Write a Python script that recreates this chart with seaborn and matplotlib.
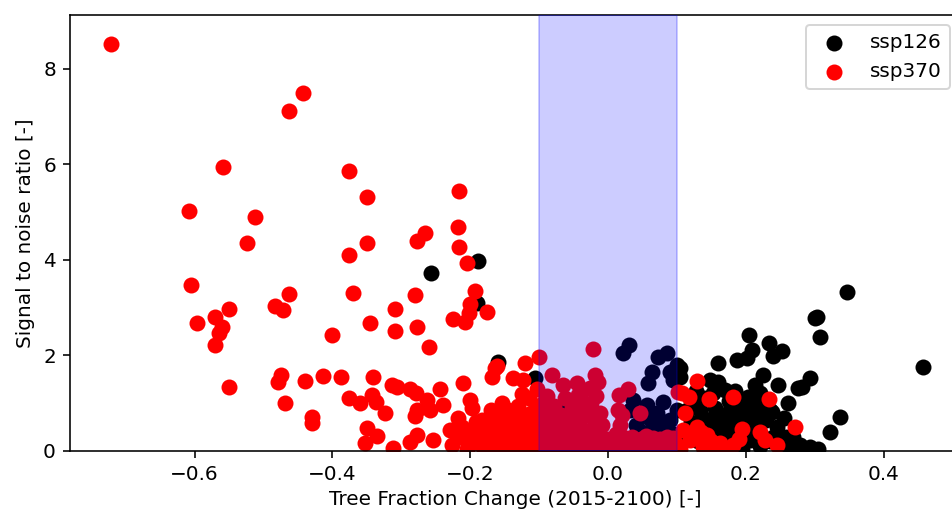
import matplotlib
matplotlib.use('Agg')
import matplotlib.pyplot as plt
import numpy as np
import seaborn as sns

# tree fraction change vs signal to noise ratio, one (x, y) pair per grid cell
ssp126 = np.array([
    (-0.189, 3.98), (-0.257, 3.73), (-0.190, 3.10), (-0.160, 1.86), (-0.106, 1.53),
    (0.030, 2.22), (0.022, 2.05), (0.086, 2.05), (0.073, 1.97), (0.100, 1.80), (0.064, 1.65),
    (0.090, 1.65), (0.058, 1.42), (0.094, 1.49), (0.036, 1.07), (0.057, 0.96), (0.080, 1.03),
    (0.071, 0.79), (0.090, 0.65), (0.100, 0.86), (0.032, 0.86),
    (0.040, 0.55), (0.050, 0.40), (0.065, 0.50), (0.075, 0.30), (0.085, 0.45), (0.095, 0.35),
    (0.045, 0.25), (0.060, 0.70), (0.080, 0.60),
    (0.347, 3.33), (0.457, 1.76), (0.303, 2.81), (0.300, 2.79), (0.308, 2.39), (0.205, 2.43),
    (0.234, 2.26), (0.252, 2.09), (0.209, 2.12), (0.240, 1.98), (0.187, 1.91), (0.202, 1.95),
    (0.160, 1.85), (0.293, 1.53), (0.276, 1.32), (0.282, 1.34), (0.225, 1.59), (0.247, 1.38),
    (0.213, 1.38), (0.221, 1.21), (0.261, 1.00), (0.235, 0.86), (0.238, 0.82), (0.337, 0.72),
    (0.322, 0.40), (0.148, 1.49), (0.160, 1.45), (0.170, 1.28), (0.203, 1.13), (0.199, 1.00),
    (0.177, 0.86), (0.167, 0.72), (0.104, 1.74), (0.104, 1.55), (0.134, 0.86), (0.144, 0.65),
    (0.245, 0.50), (0.271, 0.17), (0.293, 0.09), (0.279, 0.13), (0.206, 0.23), (0.213, 0.65),
    (0.187, 0.50), (0.163, 0.38), (0.152, 1.21),
    (0.110, 0.30), (0.120, 0.60), (0.125, 0.95), (0.130, 0.20), (0.140, 1.10), (0.150, 0.50),
    (0.155, 0.90), (0.160, 0.10), (0.170, 0.40), (0.175, 1.05), (0.180, 0.65), (0.185, 0.20),
    (0.190, 0.90), (0.195, 0.05), (0.200, 0.70), (0.210, 0.40), (0.215, 0.95), (0.220, 0.10),
    (0.230, 0.65), (0.240, 0.30), (0.250, 0.05), (0.255, 0.70), (0.265, 0.10), (0.285, 0.05),
    (0.305, 0.04),
    (0.115, 0.85), (0.128, 1.25), (0.138, 0.70), (0.158, 0.65), (0.172, 0.20), (0.185, 1.25),
    (0.195, 0.35), (0.205, 0.90), (0.225, 0.85), (0.235, 0.20), (0.258, 0.30), (0.268, 0.30),
    (0.275, 0.05), (0.295, 0.02),
    (-0.120, 0.40), (-0.050, 0.50), (-0.020, 0.30), (-0.065, 0.95), (-0.055, 1.00),
])

ssp370 = np.array([
    (-0.721, 8.52), (-0.443, 7.50), (-0.463, 7.12), (-0.559, 5.95), (-0.376, 5.86),
    (-0.350, 5.32), (-0.216, 5.44), (-0.608, 5.03), (-0.512, 4.90), (-0.524, 4.36),
    (-0.350, 4.36), (-0.266, 4.57), (-0.277, 4.40), (-0.218, 4.69), (-0.216, 4.27),
    (-0.205, 3.94), (-0.376, 4.10), (-0.605, 3.48), (-0.463, 3.29),
    (-0.597, 2.68), (-0.570, 2.81), (-0.550, 2.97), (-0.561, 2.60), (-0.565, 2.48),
    (-0.570, 2.22), (-0.550, 1.34), (-0.483, 3.04), (-0.472, 2.95), (-0.400, 2.43),
    (-0.475, 1.59), (-0.479, 1.45), (-0.440, 1.47), (-0.414, 1.58), (-0.388, 1.55),
    (-0.469, 1.00), (-0.429, 0.72), (-0.429, 0.59), (-0.376, 1.12), (-0.360, 1.01),
    (-0.350, 0.48), (-0.353, 0.17), (-0.345, 2.68),
    (-0.370, 3.31), (-0.280, 3.27), (-0.309, 2.97), (-0.309, 2.51), (-0.277, 2.60),
    (-0.225, 2.76), (-0.208, 2.70), (-0.193, 3.35), (-0.200, 3.08), (-0.202, 2.89),
    (-0.176, 2.91), (-0.260, 2.18),
    (-0.164, 1.74), (-0.168, 1.55), (-0.100, 1.97), (-0.120, 1.84), (-0.210, 1.42),
    (-0.244, 1.30), (-0.161, 1.78),
    (-0.341, 1.55), (-0.313, 1.38), (-0.306, 1.34), (-0.287, 1.30), (-0.279, 1.21),
    (-0.343, 1.17), (-0.337, 1.03), (-0.324, 0.79), (-0.263, 1.07), (-0.277, 0.86),
    (-0.280, 0.73), (-0.258, 0.86), (-0.239, 0.96), (-0.200, 1.07), (-0.197, 0.90),
    (-0.335, 0.31), (-0.312, 0.06), (-0.287, 0.19), (-0.277, 0.34), (-0.254, 0.23),
    (-0.226, 0.13), (-0.218, 0.69), (-0.212, 0.50), (-0.183, 0.65), (-0.174, 0.48),
    (-0.161, 0.29), (-0.200, 0.29), (-0.189, 0.17), (-0.154, 1.00), (-0.145, 0.86),
    (-0.138, 1.53), (-0.123, 1.49),
    (-0.230, 0.45), (-0.195, 0.45), (-0.170, 0.85), (-0.160, 0.60), (-0.180, 0.05),
    (-0.165, 0.10), (-0.155, 0.40),
    (-0.215, 0.30), (-0.205, 0.05), (-0.192, 0.60), (-0.185, 0.35), (-0.178, 0.20),
    (-0.172, 0.65), (-0.168, 0.30),
    (-0.150, 0.10), (-0.148, 0.25), (-0.140, 0.65), (-0.135, 0.20), (-0.130, 0.95),
    (-0.128, 0.50), (-0.122, 0.05), (-0.120, 0.30), (-0.118, 0.75), (-0.115, 1.10),
    (-0.110, 0.55), (-0.108, 0.15), (-0.105, 0.90), (-0.103, 1.30), (-0.102, 0.35),
    (-0.145, 0.45), (-0.142, 0.05), (-0.138, 0.80), (-0.132, 0.35), (-0.125, 0.70),
    (-0.125, 1.20), (-0.113, 0.40), (-0.112, 0.80), (-0.105, 0.05), (-0.158, 0.20),
    (-0.152, 0.75),
    (-0.095, 0.10), (-0.092, 0.45), (-0.090, 0.80), (-0.088, 1.15), (-0.085, 0.25),
    (-0.080, 0.60), (-0.078, 0.95), (-0.075, 0.05), (-0.070, 0.35), (-0.068, 0.75),
    (-0.062, 1.10), (-0.060, 0.15), (-0.058, 0.55), (-0.052, 0.90), (-0.050, 0.30),
    (-0.045, 0.05), (-0.040, 0.65), (-0.038, 1.25), (-0.035, 0.40), (-0.030, 0.95),
    (-0.028, 0.15), (-0.022, 0.70), (-0.018, 1.15), (-0.015, 0.35), (-0.010, 0.05),
    (-0.008, 0.55), (0.000, 0.25), (0.010, 0.05), (0.015, 0.85), (0.018, 0.55),
    (0.022, 0.30), (0.030, 0.10), (0.040, 0.12), (0.050, 0.05), (0.060, 0.15),
    (0.070, 0.08), (0.080, 0.12), (0.090, 0.05), (0.098, 0.15),
    (-0.097, 0.60), (-0.094, 1.00), (-0.083, 0.40), (-0.082, 0.05), (-0.073, 0.55),
    (-0.066, 0.20), (-0.064, 0.45), (-0.056, 0.75), (-0.054, 0.05), (-0.047, 0.50),
    (-0.046, 1.00), (-0.042, 0.25), (-0.033, 0.75), (-0.032, 0.05), (-0.025, 0.45),
    (-0.024, 1.00), (-0.020, 0.20), (-0.012, 0.80), (-0.005, 0.10), (0.012, 0.35),
    (0.020, 0.75), (0.025, 0.05), (0.035, 0.30), (0.048, 0.25), (0.055, 0.32),
    (0.065, 0.28), (0.075, 0.25), (0.085, 0.30), (0.095, 0.28), (0.045, 0.05),
    (-0.022, 2.14), (-0.081, 1.59), (-0.065, 1.38), (-0.045, 1.42), (-0.019, 1.59),
    (-0.015, 1.44), (-0.026, 1.32), (-0.044, 1.17), (0.016, 1.17), (0.029, 1.30),
    (0.046, 0.79), (0.102, 1.24),
    (0.129, 1.47), (0.107, 1.21), (0.118, 1.13), (0.147, 1.09), (0.181, 1.13),
    (0.234, 1.09), (0.112, 0.79), (0.194, 0.46), (0.271, 0.50), (0.109, 0.44),
    (0.129, 0.50), (0.144, 0.34), (0.163, 0.17), (0.181, 0.13), (0.221, 0.40),
    (0.228, 0.23), (0.245, 0.13), (0.119, 0.23), (0.138, 0.09),
    (0.105, 0.05), (0.125, 0.30), (0.135, 0.40), (0.150, 0.20), (0.155, 0.05),
    (0.170, 0.05), (0.190, 0.25),
])

# band of "no significant change"
band = (-0.1, 0.1)

dpi = 144
fig = plt.figure(figsize=(952 / dpi, 512 / dpi), dpi=dpi)
ax = fig.add_axes([70 / 952, 61 / 512, 890 / 952, 436 / 512])

sns.scatterplot(x=ssp126[:, 0], y=ssp126[:, 1], color='k', s=64, linewidth=0,
                label='ssp126', ax=ax)
sns.scatterplot(x=ssp370[:, 0], y=ssp370[:, 1], color='r', s=64, linewidth=0,
                label='ssp370', ax=ax)
ax.axvspan(band[0], band[1], color='blue', alpha=0.2, zorder=3)

ax.set_xlim(-0.781, 0.511)
ax.set_ylim(0, 9.13)
ax.set_xlabel('Tree Fraction Change (2015-2100) [-]', labelpad=3)
ax.set_ylabel('Signal to noise ratio [-]')
ax.legend(loc='upper right')

fig.savefig('out.png', dpi=dpi)
